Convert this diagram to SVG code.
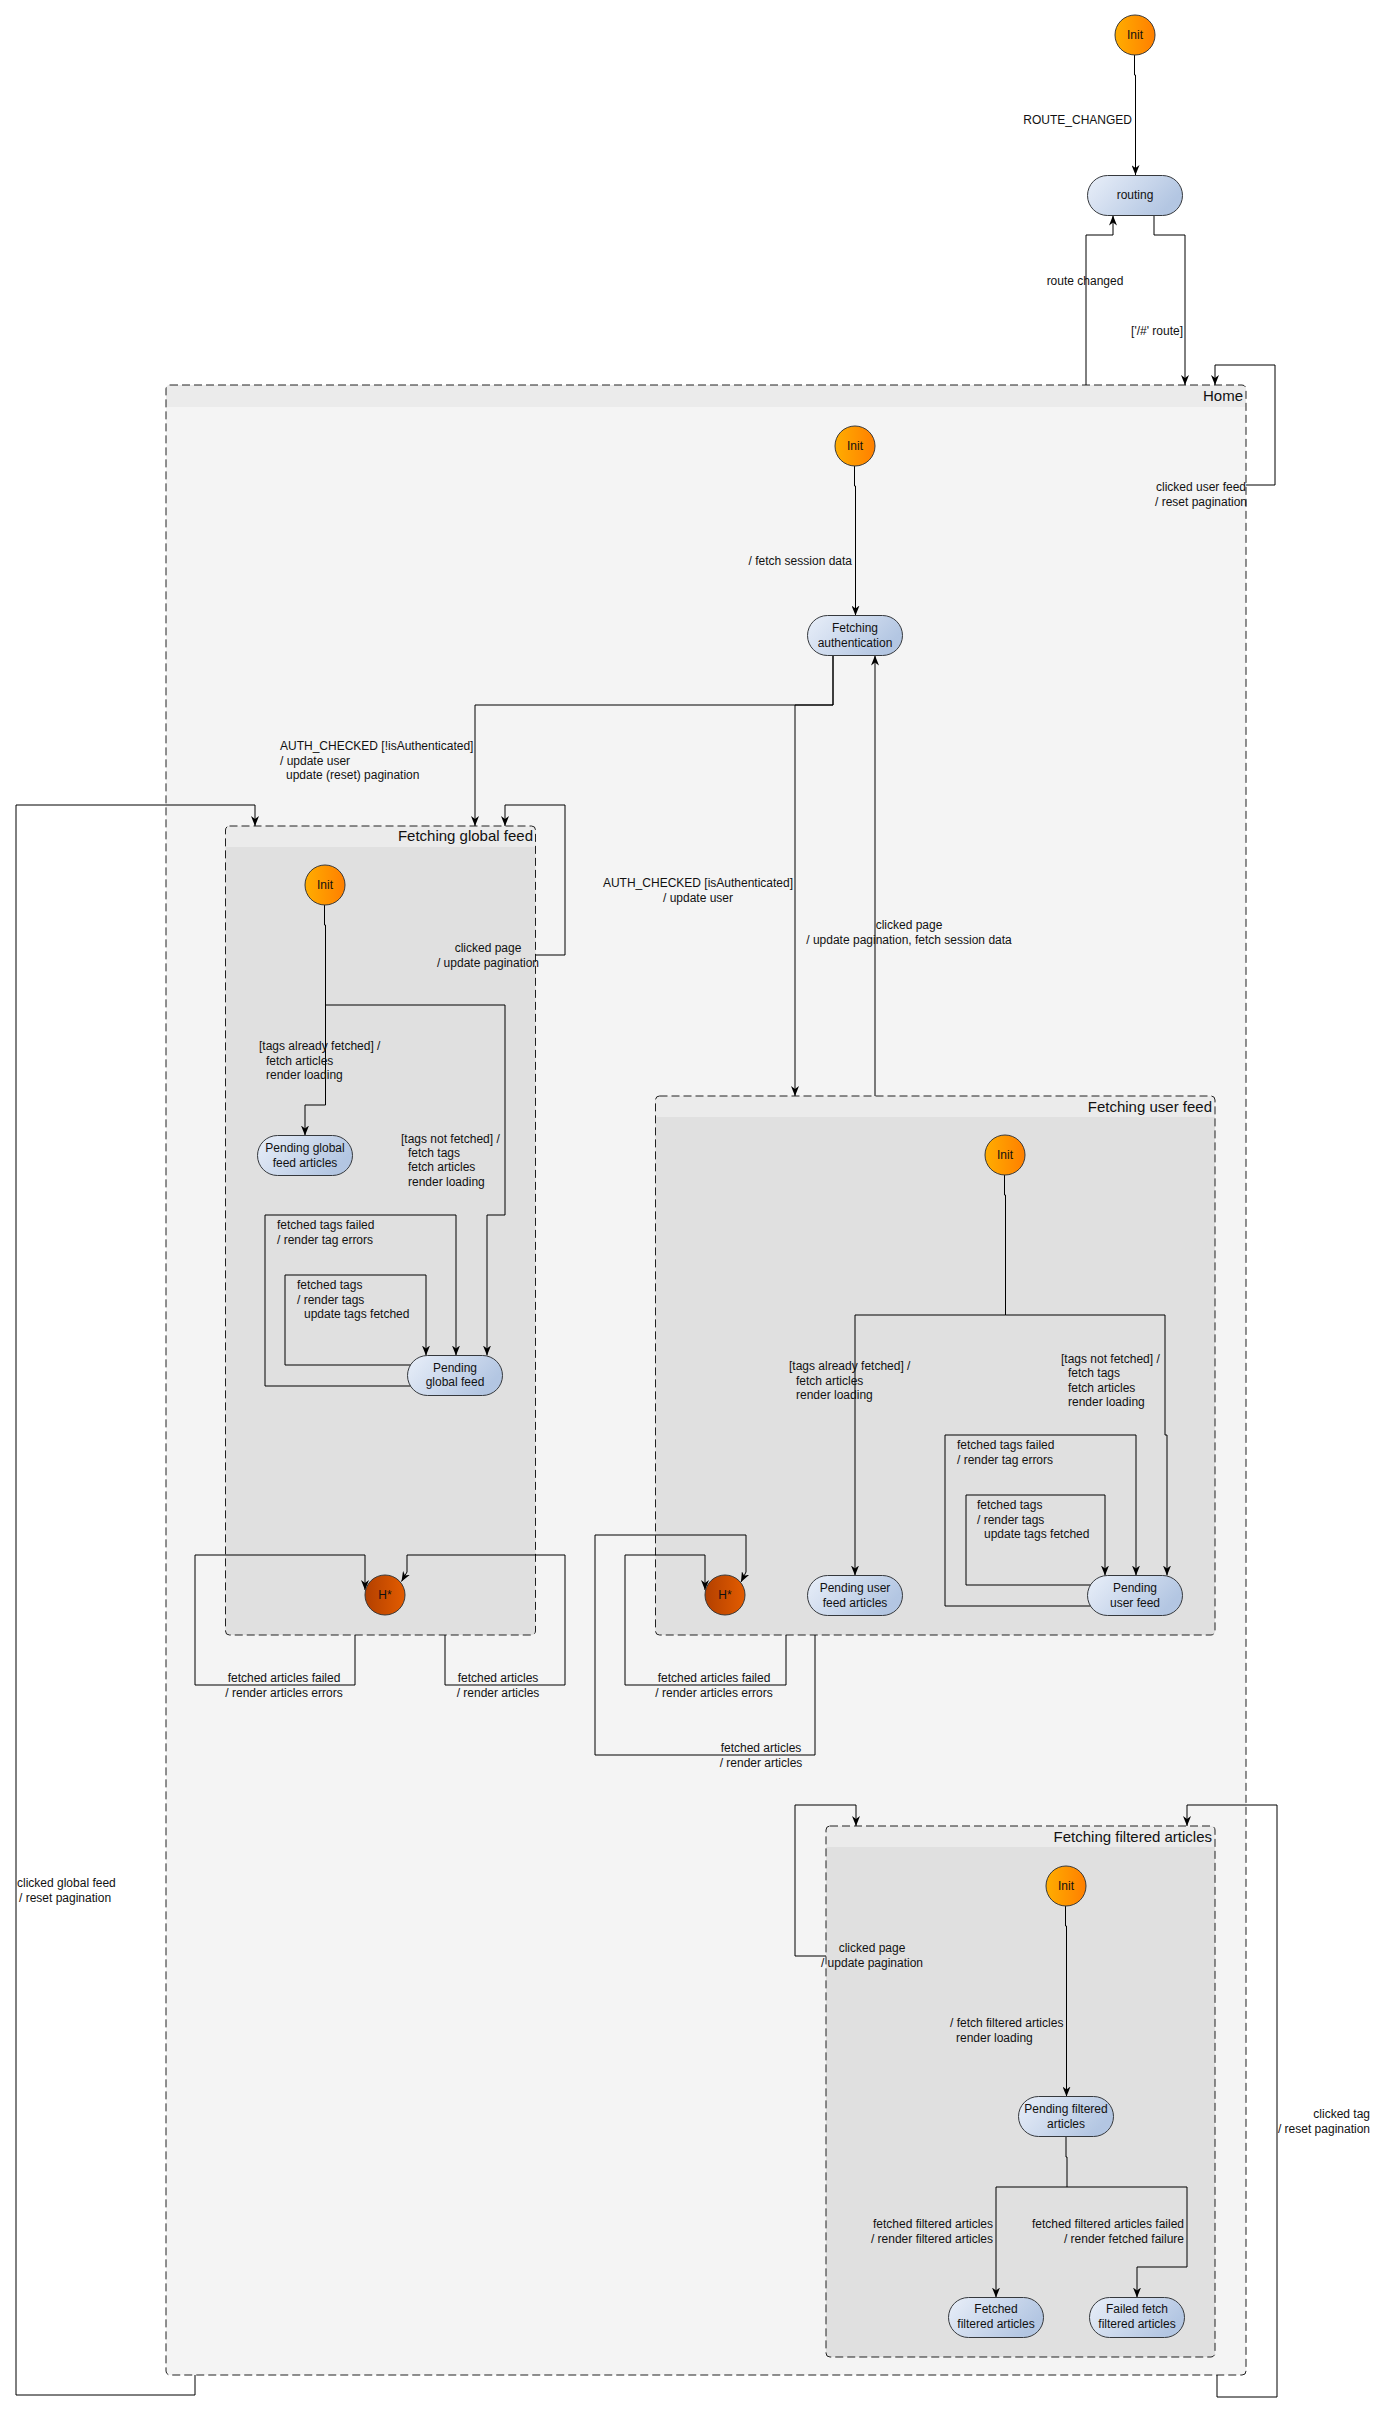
<svg xmlns="http://www.w3.org/2000/svg" width="1387" height="2410" viewBox="0 0 1387 2410">
  <defs>
    <linearGradient id="gInit" x1="0" y1="0" x2="1" y2="0">
      <stop offset="0" stop-color="#ffad00"/>
      <stop offset="1" stop-color="#ff7f00"/>
    </linearGradient>
    <linearGradient id="gHist" x1="0" y1="0" x2="1" y2="0">
      <stop offset="0" stop-color="#b34000"/>
      <stop offset="1" stop-color="#e35c00"/>
    </linearGradient>
    <linearGradient id="gState" x1="0" y1="0" x2="1" y2="0.4">
      <stop offset="0" stop-color="#e9eff9"/>
      <stop offset="1" stop-color="#b3c6e2"/>
    </linearGradient>
    <marker id="arrow" viewBox="0 0 10 8" refX="10" refY="4" markerWidth="10" markerHeight="8" markerUnits="userSpaceOnUse" orient="auto">
      <path d="M0,0 L10,4 L0,8 L3,4 z" fill="#000"/>
    </marker>
    <style>
      text { font-family: "Liberation Sans", Arial, sans-serif; fill: #111; }
      .lbl { font-size: 12px; }
      .mid { text-anchor: middle; }
      .end { text-anchor: end; }
      .title { font-size: 15px; text-anchor: end; }
      .edge { fill: none; stroke: #000; stroke-width: 1; marker-end: url(#arrow); }
      .edge-plain { fill: none; stroke: #000; stroke-width: 1; }
      .frame { fill: none; stroke: #222; stroke-width: 1; stroke-dasharray: 8 4; }
      .init { fill: url(#gInit); stroke: #3a3a3a; stroke-width: 1; }
      .hist { fill: url(#gHist); stroke: #3a3a3a; stroke-width: 1; }
      .state { fill: url(#gState); stroke: #36393d; stroke-width: 1; }
    </style>
  </defs>

  <rect x="0" y="0" width="1387" height="2410" fill="#ffffff"/>

  <!-- composite states -->
  <g id="home">
    <rect x="166" y="385" width="1080" height="1990" rx="4" fill="#f4f4f4"/>
    <path d="M166,407 V389 a4,4 0 0 1 4,-4 H1242 a4,4 0 0 1 4,4 V407 Z" fill="#ebebeb"/>
    <rect class="frame" x="166" y="385" width="1080" height="1990" rx="4"/>
    <text class="title" x="1243" y="401">Home</text>
  </g>

  <g id="fetching-global-feed">
    <rect x="225.5" y="826" width="310" height="809" rx="4" fill="#e0e0e0"/>
    <path d="M225.5,847 V830 a4,4 0 0 1 4,-4 H531.5 a4,4 0 0 1 4,4 V847 Z" fill="#ebebeb"/>
    <rect class="frame" x="225.5" y="826" width="310" height="809" rx="4"/>
    <text class="title" x="533" y="841">Fetching global feed</text>
  </g>

  <g id="fetching-user-feed">
    <rect x="655.5" y="1096" width="559.5" height="539" rx="4" fill="#e0e0e0"/>
    <path d="M655.5,1117 V1100 a4,4 0 0 1 4,-4 H1211 a4,4 0 0 1 4,4 V1117 Z" fill="#ebebeb"/>
    <rect class="frame" x="655.5" y="1096" width="559.5" height="539" rx="4"/>
    <text class="title" x="1212" y="1111.5">Fetching user feed</text>
  </g>

  <g id="fetching-filtered-articles">
    <rect x="826" y="1826" width="389" height="531" rx="4" fill="#e0e0e0"/>
    <path d="M826,1847 V1830 a4,4 0 0 1 4,-4 H1211 a4,4 0 0 1 4,4 V1847 Z" fill="#ebebeb"/>
    <rect class="frame" x="826" y="1826" width="389" height="531" rx="4"/>
    <text class="title" x="1212" y="1841.5">Fetching filtered articles</text>
  </g>

  <!-- transitions -->
  <g id="connectors">
    <!-- top level -->
    <path class="edge" d="M1134.5,55 V75 H1135.5 V175"/>
    <text class="lbl end" x="1132" y="124">ROUTE_CHANGED</text>

    <path class="edge" d="M1086,385 V235 H1113 V215.5"/>
    <text class="lbl mid" x="1085" y="285">route changed</text>

    <path class="edge" d="M1154,215.5 V235 H1185 V385"/>
    <text class="lbl end" x="1183" y="335">['/#' route]</text>

    <path class="edge" d="M1246,485 H1275 V365 H1215 V385"/>
    <text class="lbl mid" x="1201" y="491">clicked user feed<tspan x="1201" y="506">/ reset pagination</tspan></text>

    <!-- home -->
    <path class="edge" d="M854.5,466 V486 H855.5 V615.5"/>
    <text class="lbl end" x="852" y="565">/ fetch session data</text>

    <path class="edge" d="M833,655.5 V705 H475 V826"/>
    <text class="lbl" x="280" y="750">AUTH_CHECKED [!isAuthenticated]<tspan x="280" y="765">/ update user</tspan><tspan x="286" y="779">update (reset) pagination</tspan></text>

    <path class="edge" d="M833,655.5 V705 H795 V1096"/>
    <text class="lbl mid" x="698" y="887">AUTH_CHECKED [isAuthenticated]<tspan x="698" y="902">/ update user</tspan></text>

    <path class="edge" d="M875,1096 V655.5"/>
    <text class="lbl mid" x="909" y="929">clicked page<tspan x="909" y="944">/ update pagination, fetch session data</tspan></text>

    <path class="edge" d="M195,2375 V2395 H16 V805 H255 V826"/>
    <text class="lbl" x="17" y="1887">clicked global feed<tspan x="19" y="1902">/ reset pagination</tspan></text>

    <!-- global feed -->
    <path class="edge" d="M535.5,955 H565 V805 H505 V826"/>
    <text class="lbl mid" x="488" y="952">clicked page<tspan x="488" y="967">/ update pagination</tspan></text>

    <path class="edge" d="M324.5,905 V925 H325.5 V1105 H305 V1135.5"/>
    <text class="lbl" x="259" y="1050">[tags already fetched] /<tspan x="266" y="1065">fetch articles</tspan><tspan x="266" y="1079">render loading</tspan></text>

    <path class="edge" d="M325.5,1005 H505 V1215 H487 V1355.5"/>
    <text class="lbl" x="401" y="1143">[tags not fetched] /<tspan x="408" y="1157">fetch tags</tspan><tspan x="408" y="1171">fetch articles</tspan><tspan x="408" y="1186">render loading</tspan></text>

    <path class="edge" d="M411,1386 H265 V1215 H456 V1355.5"/>
    <text class="lbl" x="277" y="1229">fetched tags failed<tspan x="277" y="1244">/ render tag errors</tspan></text>

    <path class="edge" d="M411,1365 H285 V1275 H426 V1355.5"/>
    <text class="lbl" x="297" y="1289">fetched tags<tspan x="297" y="1304">/ render tags</tspan><tspan x="304" y="1318">update tags fetched</tspan></text>

    <path class="edge" d="M355,1635 V1685 H195 V1555 H365 V1590"/>
    <text class="lbl mid" x="284" y="1682">fetched articles failed<tspan x="284" y="1697">/ render articles errors</tspan></text>

    <path class="edge" d="M445,1635 V1685 H565 V1555 H407 V1572 L401.5,1581.5"/>
    <text class="lbl mid" x="498" y="1682">fetched articles<tspan x="498" y="1697">/ render articles</tspan></text>

    <!-- user feed -->
    <path class="edge" d="M1004.5,1175 V1195 H1005.5 V1315 H855 V1575.5"/>
    <text class="lbl" x="789" y="1370">[tags already fetched] /<tspan x="796" y="1385">fetch articles</tspan><tspan x="796" y="1399">render loading</tspan></text>

    <path class="edge" d="M1005.5,1315 H1165 V1435 H1167 V1575.5"/>
    <text class="lbl" x="1061" y="1363">[tags not fetched] /<tspan x="1068" y="1377">fetch tags</tspan><tspan x="1068" y="1392">fetch articles</tspan><tspan x="1068" y="1406">render loading</tspan></text>

    <path class="edge" d="M1091,1606 H945 V1435 H1136 V1575.5"/>
    <text class="lbl" x="957" y="1449">fetched tags failed<tspan x="957" y="1464">/ render tag errors</tspan></text>

    <path class="edge" d="M1091,1585 H966 V1495 H1105 V1575.5"/>
    <text class="lbl" x="977" y="1509">fetched tags<tspan x="977" y="1524">/ render tags</tspan><tspan x="984" y="1538">update tags fetched</tspan></text>

    <path class="edge" d="M786,1635 V1685 H625 V1555 H705 V1590"/>
    <text class="lbl mid" x="714" y="1682">fetched articles failed<tspan x="714" y="1697">/ render articles errors</tspan></text>

    <path class="edge" d="M815,1635 V1755 H595 V1535 H746 V1572 L741,1582"/>
    <text class="lbl mid" x="761" y="1752">fetched articles<tspan x="761" y="1767">/ render articles</tspan></text>

    <!-- filtered articles -->
    <path class="edge" d="M826,1956 H795 V1805 H856 V1826"/>
    <text class="lbl mid" x="872" y="1952">clicked page<tspan x="872" y="1967">/ update pagination</tspan></text>

    <path class="edge" d="M1217,2375 V2397 H1277 V1805 H1187 V1826"/>
    <text class="lbl end" x="1370" y="2118">clicked tag<tspan x="1370" y="2133">/ reset pagination</tspan></text>

    <path class="edge" d="M1065.5,1906 V1926 H1066.5 V2096.5"/>
    <text class="lbl" x="950" y="2027">/ fetch filtered articles<tspan x="956" y="2042">render loading</tspan></text>

    <path class="edge" d="M1066,2136.5 V2157 H1067 V2187 H996 V2297.5"/>
    <text class="lbl end" x="993" y="2228">fetched filtered articles<tspan x="993" y="2243">/ render filtered articles</tspan></text>

    <path class="edge" d="M1067,2187 H1187 V2267 H1137 V2297.5"/>
    <text class="lbl end" x="1184" y="2228">fetched filtered articles failed<tspan x="1184" y="2243">/ render fetched failure</tspan></text>
  </g>

  <!-- simple states -->
  <g id="init-root">
    <circle class="init" cx="1135" cy="35" r="20"/>
    <text class="lbl mid" x="1135" y="39">Init</text>
  </g>
  <g id="routing">
    <rect class="state" x="1087.5" y="175.5" width="95" height="40" rx="20"/>
    <text class="lbl mid" x="1135" y="199">routing</text>
  </g>
  <g id="init-home">
    <circle class="init" cx="855" cy="446" r="20"/>
    <text class="lbl mid" x="855" y="450">Init</text>
  </g>
  <g id="fetching-authentication">
    <rect class="state" x="807.5" y="615.5" width="95" height="40" rx="20"/>
    <text class="lbl mid" x="855" y="632">Fetching<tspan x="855" y="647">authentication</tspan></text>
  </g>

  <g id="init-global">
    <circle class="init" cx="325" cy="885" r="20"/>
    <text class="lbl mid" x="325" y="889">Init</text>
  </g>
  <g id="pending-global-feed-articles">
    <rect class="state" x="257.5" y="1135.5" width="95" height="40" rx="20"/>
    <text class="lbl mid" x="305" y="1152">Pending global<tspan x="305" y="1167">feed articles</tspan></text>
  </g>
  <g id="pending-global-feed">
    <rect class="state" x="407.5" y="1355.5" width="95" height="40" rx="20"/>
    <text class="lbl mid" x="455" y="1372">Pending<tspan x="455" y="1386">global feed</tspan></text>
  </g>
  <g id="history-global">
    <circle class="hist" cx="385" cy="1595" r="20"/>
    <text class="lbl mid" x="385" y="1599">H*</text>
  </g>

  <g id="init-user">
    <circle class="init" cx="1005" cy="1155" r="20"/>
    <text class="lbl mid" x="1005" y="1159">Init</text>
  </g>
  <g id="pending-user-feed-articles">
    <rect class="state" x="807.5" y="1575.5" width="95" height="40" rx="20"/>
    <text class="lbl mid" x="855" y="1591.5">Pending user<tspan x="855" y="1606.5">feed articles</tspan></text>
  </g>
  <g id="pending-user-feed">
    <rect class="state" x="1087.5" y="1575.5" width="95" height="40" rx="20"/>
    <text class="lbl mid" x="1135" y="1591.5">Pending<tspan x="1135" y="1606.5">user feed</tspan></text>
  </g>
  <g id="history-user">
    <circle class="hist" cx="725" cy="1595" r="20"/>
    <text class="lbl mid" x="725" y="1599">H*</text>
  </g>

  <g id="init-filtered">
    <circle class="init" cx="1066" cy="1886" r="20"/>
    <text class="lbl mid" x="1066" y="1890">Init</text>
  </g>
  <g id="pending-filtered-articles">
    <rect class="state" x="1018.5" y="2096.5" width="95" height="40" rx="20"/>
    <text class="lbl mid" x="1066" y="2113">Pending filtered<tspan x="1066" y="2128">articles</tspan></text>
  </g>
  <g id="fetched-filtered-articles">
    <rect class="state" x="948.5" y="2297.5" width="95" height="40" rx="20"/>
    <text class="lbl mid" x="996" y="2313">Fetched<tspan x="996" y="2328">filtered articles</tspan></text>
  </g>
  <g id="failed-fetch-filtered-articles">
    <rect class="state" x="1089.5" y="2297.5" width="95" height="40" rx="20"/>
    <text class="lbl mid" x="1137" y="2313">Failed fetch<tspan x="1137" y="2328">filtered articles</tspan></text>
  </g>
</svg>
